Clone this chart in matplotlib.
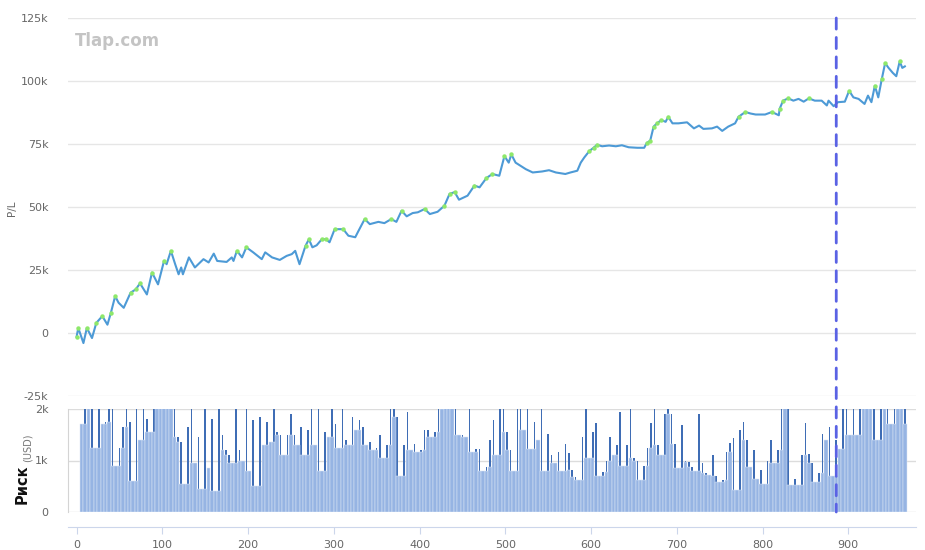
import matplotlib.pyplot as plt
from matplotlib.patches import ConnectionPatch
import numpy as np

# Equity curve (trade number, P/L in USD)
trade = [0, 2, 8, 12, 18, 23, 30, 36, 40, 45, 49, 55, 63, 69, 74, 82, 88, 95,
         102, 105, 110, 115, 119, 122, 124, 131, 138, 148, 154, 160, 164, 175,
         181, 183, 187, 193, 198, 206, 216, 220, 228, 237, 245, 251, 255, 260,
         267, 271, 275, 280, 286, 291, 295, 301, 311, 317, 325, 328, 336, 342,
         352, 359, 367, 373, 379, 385, 392, 398, 406, 412, 421, 429, 435, 441,
         446, 456, 464, 470, 478, 485, 493, 499, 504, 507, 512, 518, 524, 532,
         543, 551, 559, 570, 576, 584, 588, 592, 598, 603, 607, 613, 621, 629,
         636, 644, 654, 662, 665, 669, 673, 677, 682, 687, 690, 695, 702, 712,
         720, 726, 731, 741, 747, 753, 760, 768, 772, 780, 786, 792, 803, 811,
         819, 820, 824, 830, 836, 842, 848, 854, 861, 869, 875, 877, 883, 888,
         896, 901, 906, 912, 919, 923, 927, 931, 935, 939, 943, 947, 952, 956,
         960, 963, 966]
pnl = [-1500, 2000, -4000, 2000, -2000, 4000, 6700, 3300, 8000, 14600, 12000,
       10000, 16000, 17300, 19700, 15300, 24000, 19300, 28600, 27300, 32600,
       27300, 23300, 26000, 23300, 30000, 26000, 29300, 28000, 31500, 28600,
       28200, 30000, 28600, 32600, 30000, 34000, 32000, 29300, 32000, 30000,
       29000, 30600, 31300, 32600, 27300, 34600, 37200, 34000, 34800, 37200,
       37200, 36000, 41200, 41200, 38600, 38000, 40000, 45200, 43200, 44100,
       43600, 45200, 44100, 48500, 46300, 47600, 47900, 49200, 47200, 48100,
       50500, 55200, 55900, 52900, 54500, 58500, 57800, 61500, 63100, 62400,
       70200, 67600, 70900, 67600, 66300, 65000, 63700, 64100, 64600, 63700,
       63100, 63700, 64400, 67600, 69600, 72200, 73500, 74700, 74100, 74400,
       74100, 74500, 73700, 73500, 73500, 75400, 76300, 81900, 83200, 84500,
       83800, 85800, 83200, 83200, 83600, 81200, 82300, 81000, 81200, 81900,
       80200, 81900, 83200, 85800, 87700, 87100, 86700, 86700, 87700, 86400,
       89000, 92200, 93100, 92200, 92900, 91800, 93100, 92200, 92200, 90300,
       92200, 90000, 91600, 91800, 96100, 93500, 92900, 90900, 94200, 91600,
       98100, 93500, 100600, 107100, 105200, 103200, 101900, 107800, 105200,
       105800]

# Risk per trade (USD), one value every 4 trades starting at trade 6
risk_trade = list(range(6, 967, 4))
risk = [1700, 2500, 2500, 2400, 1250, 2500, 1700, 1750, 2500, 2200, 900, 1250,
        1650, 2500, 1750, 600, 2500, 1400, 2500, 1800, 1550, 2500, 2500, 2300,
        2500, 2100, 2500, 2500, 1450, 1350, 550, 1650, 2300, 950, 1450, 450,
        2300, 850, 1800, 400, 2200, 1500, 1200, 1100, 950, 2100, 1200, 1000,
        2200, 800, 1780, 500, 1850, 1300, 1750, 1350, 2000, 1550, 1500, 1100,
        # 246 - 490
        1500, 1900, 1500, 1300, 1650, 1100, 1600, 2300, 1300, 2300, 800, 1550,
        1450, 2300, 1700, 1250, 2300, 1400, 1300, 1850, 1600, 1780, 1650, 1300,
        1350, 1200, 1250, 1500, 1050, 1300, 2300, 2300, 1850, 700, 1300, 1950,
        1200, 1330, 1170, 1200, 1600, 1600, 1450, 1550, 2000, 2400, 2400, 2400,
        2200, 2300, 1500, 1500, 1450, 2000, 1170, 1230, 1230, 800, 870, 1400,
        1780, 1100,
        # 494 - 742
        2300, 2300, 1550, 1200, 800, 2300, 2300, 1600, 2200, 1230, 1750, 1400,
        2300, 800, 1520, 1100, 950, 1170, 800, 1330, 1150, 820, 680, 620, 1450,
        2300, 1050, 1550, 1720, 700, 780, 1000, 1460, 1100, 1300, 1940, 900,
        1300, 2300, 1050, 1000, 620, 900, 1250, 1720, 2300, 1300, 1100, 1900,
        2200, 1900, 1330, 850, 1680, 1000, 980, 880, 800, 1900, 950, 750, 720,
        1100,
        # 746 - 966
        700, 580, 620, 1170, 1340, 1430, 430, 1600, 1750, 1400, 880, 1200, 650,
        820, 550, 1000, 1400, 950, 1200, 2300, 2300, 2300, 520, 650, 520, 1100,
        1720, 1130, 950, 590, 750, 1520, 1400, 1650, 700, 1400, 1230, 2300,
        2200, 1500, 2300, 1500, 2300, 2400, 2300, 2400, 2400, 1400, 2400, 2400,
        2300, 1700, 2400, 2400, 2400, 2300]

split_trade = 886
y_ticks = [-25000, 0, 25000, 50000, 75000, 100000, 125000]
risk_ticks = [0, 1000, 2000]
x_ticks = [0, 100, 200, 300, 400, 500, 600, 700, 800, 900]

grid_c = '#e6e6e6'
label_c = '#666666'

fig = plt.figure(figsize=(9.25, 5.5), dpi=100)
W, H = 925, 550
ax1 = fig.add_axes([68 / W, 1 - 396 / H, 848 / W, 378 / H])
ax2 = fig.add_axes([68 / W, 1 - 512 / H, 848 / W, 103 / H])

# --- top: equity ---
pnl_arr = np.array(pnl)
new_high = pnl_arr >= np.maximum.accumulate(pnl_arr)
ax1.plot(trade, pnl, color='#4d9ad6', linewidth=1.5, zorder=3)
ax1.plot(np.array(trade)[new_high], pnl_arr[new_high], 'o', color='#8ee86a',
         markersize=3.2, markeredgewidth=0, zorder=4)
ax1.set_xlim(-10, 979)
ax1.set_ylim(-25000, 125000)
ax1.set_yticks(y_ticks)
ax1.set_yticklabels([f'{v // 1000}k' if v else '0' for v in y_ticks])
ax1.set_xticks([])
for s in ax1.spines.values():
    s.set_visible(False)
ax1.grid(True, axis='y', color=grid_c, linewidth=1)
ax1.set_axisbelow(True)
ax1.tick_params(axis='y', length=0, labelsize=8, labelcolor=label_c, pad=14)
ax1.text(0.008, 0.94, 'Tlap.com', transform=ax1.transAxes, fontsize=12,
         fontweight='bold', color='#c4c4c4', va='center')
fig.text(12 / W, 1 - 208 / H, 'P/L', rotation=90, fontsize=7.5,
         color=label_c, ha='center', va='center')

# --- bottom: risk bars ---
# thin dark spikes show the full bar, the light block shows the part shared with neighbours
risk_arr = np.array(risk)
covered = np.minimum(risk_arr, np.minimum(np.roll(risk_arr, 1), np.roll(risk_arr, -1)))
ax2.bar(risk_trade, risk, width=1.8, color='#3f6db5', linewidth=0, zorder=2)
ax2.bar(risk_trade, covered, width=4, color='#96b4e3', edgecolor='#dce6f6',
        linewidth=0.35, zorder=2)
ax2.set_xlim(-10, 979)
ax2.set_ylim(0, 2000)
ax2.set_yticks(risk_ticks)
ax2.set_yticklabels(['0', '1k', '2k'])
ax2.set_xticks(x_ticks)
ax2.grid(True, axis='y', color='#dcdcdc', linewidth=1)
ax2.set_axisbelow(True)
for side in ['top', 'right']:
    ax2.spines[side].set_visible(False)
ax2.spines['left'].set_color('#d4d4d4')
ax2.spines['bottom'].set_position(('outward', 11))
ax2.spines['bottom'].set_color('#ccd6eb')
ax2.tick_params(axis='y', length=0, labelsize=8, labelcolor=label_c, pad=14)
ax2.tick_params(axis='x', length=5, color='#ccd6eb', labelsize=8,
                labelcolor=label_c, pad=4)
fig.text(22 / W, 1 - 504 / H, 'Риск', rotation=90, fontsize=10.5,
         fontweight='bold', color='#111111', ha='center', va='bottom')
fig.text(28 / W, 1 - 462 / H, '(USD)', rotation=90, fontsize=7,
         color='#777777', ha='center', va='bottom')

# dashed marker across both panels
con = ConnectionPatch(xyA=(split_trade, 125000), coordsA=ax1.transData,
                      xyB=(split_trade, 0), coordsB=ax2.transData,
                      color='#5a62e4', linewidth=2, linestyle=(0, (4, 3)),
                      zorder=10)
fig.add_artist(con)

plt.savefig('out.png', dpi=100)
